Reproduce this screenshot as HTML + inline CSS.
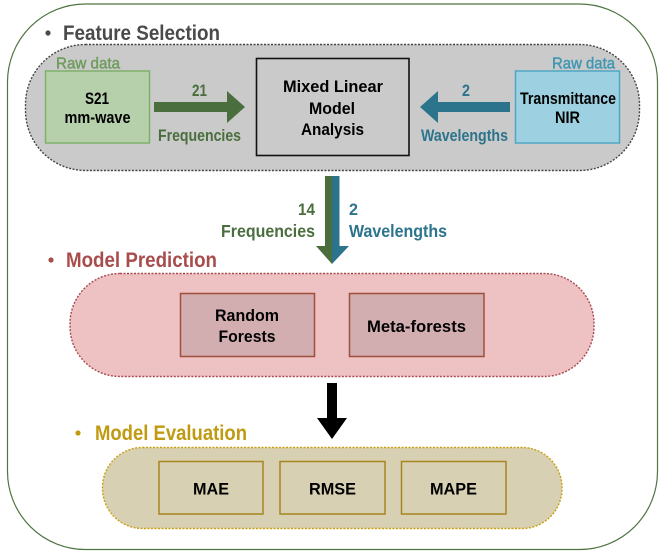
<!DOCTYPE html>
<html>
<head>
<meta charset="utf-8">
<style>
html,body{margin:0;padding:0;background:#fff;width:664px;height:554px;overflow:hidden}
svg{display:block;filter:blur(.25px)}
text{font-family:"Liberation Sans",sans-serif;font-weight:bold;text-anchor:start}
.b{fill:#000;font-size:16.5px}
.h{font-size:21.5px}
.l{font-size:16.5px}
</style>
</head>
<body>
<svg width="664" height="554" viewBox="0 0 664 554" xmlns="http://www.w3.org/2000/svg">
<rect x="7.5" y="4" width="650" height="545.5" rx="78" ry="78" fill="#fff" stroke="#4f7542" stroke-width="1.2"/>

<!-- Feature Selection -->
<circle cx="48" cy="33" r="2.6" fill="#4a4a4a"/>
<text class="h" x="63" y="40" fill="#4a4a4a" textLength="157" lengthAdjust="spacingAndGlyphs">Feature Selection</text>
<rect x="25.5" y="44.5" width="614" height="126" rx="60" ry="60" fill="#cacaca" stroke="#444" stroke-width="1.4" stroke-dasharray="2 1.5"/>
<text x="56" y="68.5" fill="#6f9c5c" font-size="16" style="font-weight:normal;stroke:#6f9c5c;stroke-width:.45" textLength="64" lengthAdjust="spacingAndGlyphs">Raw data</text>
<text x="552" y="68.5" fill="#3f97b3" font-size="16" style="font-weight:normal;stroke:#3f97b3;stroke-width:.45" textLength="63" lengthAdjust="spacingAndGlyphs">Raw data</text>

<rect x="45.5" y="71" width="104" height="72" fill="#b6d0ab" stroke="#7fb069" stroke-width="1.5"/>
<text class="b" x="85" y="104" textLength="24" lengthAdjust="spacingAndGlyphs">S21</text>
<text class="b" x="64.5" y="123" textLength="66" lengthAdjust="spacingAndGlyphs">mm-wave</text>

<polygon points="154,102 227,102 227,91 245,107 227,123 227,112 154,112" fill="#4a6e3d"/>
<text class="l" x="192" y="96" fill="#4a6e3d" textLength="15" lengthAdjust="spacingAndGlyphs">21</text>
<text class="l" x="158" y="141" fill="#4a6e3d" textLength="83" lengthAdjust="spacingAndGlyphs">Frequencies</text>

<rect x="256.5" y="58.5" width="152.5" height="97" fill="#cacaca" stroke="#111" stroke-width="1.6"/>
<text class="b" x="283" y="92" textLength="100" lengthAdjust="spacingAndGlyphs">Mixed Linear</text>
<text class="b" x="309" y="114" textLength="46" lengthAdjust="spacingAndGlyphs">Model</text>
<text class="b" x="301" y="135" textLength="63" lengthAdjust="spacingAndGlyphs">Analysis</text>

<polygon points="510,102 438,102 438,91 420,107 438,123 438,112 510,112" fill="#2c738c"/>
<text class="l" x="462" y="96" fill="#2c738c" textLength="8" lengthAdjust="spacingAndGlyphs">2</text>
<text class="l" x="421" y="141" fill="#2c738c" textLength="87" lengthAdjust="spacingAndGlyphs">Wavelengths</text>

<rect x="515.5" y="71" width="104" height="72" fill="#9dd1e1" stroke="#4fa6c4" stroke-width="1.5"/>
<text class="b" x="520" y="104" textLength="96" lengthAdjust="spacingAndGlyphs">Transmittance</text>
<text class="b" x="555" y="123" textLength="25" lengthAdjust="spacingAndGlyphs">NIR</text>

<!-- Down split arrow -->
<polygon points="325,176 332,176 332,264 316,246 325,246" fill="#4a6e3d"/>
<polygon points="332,176 339.5,176 339.5,246 349,246 332,264" fill="#2c738c"/>
<text class="l" x="298" y="215" fill="#4a6e3d" textLength="17" lengthAdjust="spacingAndGlyphs">14</text>
<text class="l" x="221" y="237" fill="#4a6e3d" textLength="94" lengthAdjust="spacingAndGlyphs" style="font-size:17.5px">Frequencies</text>
<text class="l" x="349" y="215" fill="#2c738c" textLength="9" lengthAdjust="spacingAndGlyphs">2</text>
<text class="l" x="349" y="237" fill="#2c738c" textLength="98" lengthAdjust="spacingAndGlyphs" style="font-size:17.5px">Wavelengths</text>

<!-- Model Prediction -->
<circle cx="51" cy="260" r="2.6" fill="#a84c4c"/>
<text class="h" x="66" y="267" fill="#a84c4c" textLength="151" lengthAdjust="spacingAndGlyphs">Model Prediction</text>
<rect x="70" y="273.5" width="524" height="103" rx="50" ry="50" fill="#eec1c2" stroke="#a84a50" stroke-width="1.4" stroke-dasharray="2 1.5"/>
<rect x="180.5" y="293.5" width="134" height="63" fill="#d3aeb1" stroke="#a0503a" stroke-width="1.5"/>
<text class="b" x="215" y="321" textLength="64" lengthAdjust="spacingAndGlyphs">Random</text>
<text class="b" x="218.5" y="342" textLength="57" lengthAdjust="spacingAndGlyphs">Forests</text>
<rect x="349.5" y="293.5" width="134.5" height="63" fill="#d3aeb1" stroke="#a0503a" stroke-width="1.5"/>
<text class="b" x="367" y="332" textLength="99" lengthAdjust="spacingAndGlyphs">Meta-forests</text>

<!-- Black arrow -->
<polygon points="327,383 337,383 337,418 347,418 332,439 317,418 327,418" fill="#000"/>

<!-- Model Evaluation -->
<circle cx="78" cy="433" r="2.6" fill="#c09a10"/>
<text class="h" x="95" y="440" fill="#c09a10" textLength="152" lengthAdjust="spacingAndGlyphs">Model Evaluation</text>
<rect x="102.5" y="447.5" width="459.5" height="81" rx="40" ry="40" fill="#d8d0b2" stroke="#c9a010" stroke-width="1.4" stroke-dasharray="2 1.5"/>
<rect x="159" y="461.5" width="104" height="52.5" fill="#d8d0b2" stroke="#a5851f" stroke-width="1.5"/>
<text class="b" x="193" y="494.5" textLength="36" lengthAdjust="spacingAndGlyphs">MAE</text>
<rect x="280" y="461.5" width="105" height="52.5" fill="#d8d0b2" stroke="#a5851f" stroke-width="1.5"/>
<text class="b" x="309" y="494.5" textLength="47" lengthAdjust="spacingAndGlyphs">RMSE</text>
<rect x="401.5" y="461.5" width="104.5" height="52.5" fill="#d8d0b2" stroke="#a5851f" stroke-width="1.5"/>
<text class="b" x="430" y="494.5" textLength="47" lengthAdjust="spacingAndGlyphs">MAPE</text>
</svg>
</body>
</html>
